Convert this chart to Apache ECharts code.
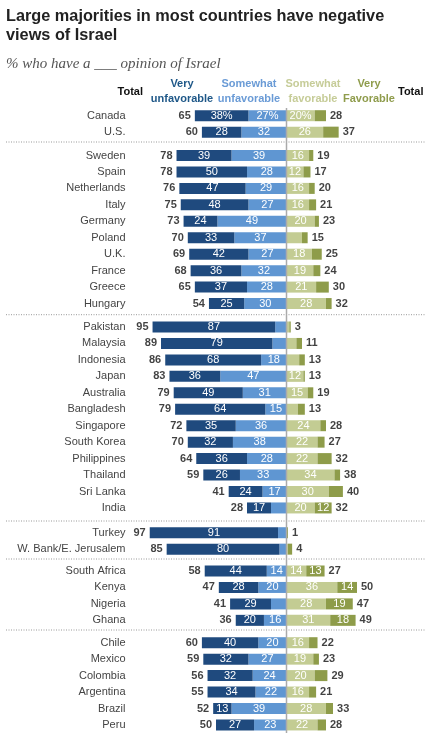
<!DOCTYPE html>
<html>
<head>
<meta charset="utf-8">
<script src="https://cdn.jsdelivr.net/npm/echarts@6/dist/echarts.min.js"></script>
<style>
  html, body { margin: 0; padding: 0; background: #fff; }
  #main { width: 443px; height: 751px; }
</style>
</head>
<body>
<div id="main"></div>
<script>
// chart data
var countries = ['Canada', 'U.S.',
    'Sweden', 'Spain', 'Netherlands', 'Italy', 'Germany', 'Poland', 'U.K.', 'France', 'Greece', 'Hungary',
    'Pakistan', 'Malaysia', 'Indonesia', 'Japan', 'Australia', 'Bangladesh', 'Singapore', 'South Korea',
    'Philippines', 'Thailand', 'Sri Lanka', 'India',
    'Turkey', 'W. Bank/E. Jerusalem',
    'South Africa', 'Kenya', 'Nigeria', 'Ghana',
    'Chile', 'Mexico', 'Colombia', 'Argentina', 'Brazil', 'Peru'];
var groupSizes = [2, 10, 12, 2, 4, 6];
var veryUnfav     = [38, 28, 39, 50, 47, 48, 24, 33, 42, 36, 37, 25, 87, 79, 68, 36, 49, 64, 35, 32, 36, 26, 24, 17, 91, 80, 44, 28, 29, 20, 40, 32, 32, 34, 13, 27];
var somewhatUnfav = [27, 32, 39, 28, 29, 27, 49, 37, 27, 32, 28, 30,  8, 10, 18, 47, 31, 15, 36, 38, 28, 33, 17, 11,  6,  5, 14, 20, 11, 16, 20, 27, 24, 22, 39, 23];
var somewhatFav   = [20, 26, 16, 12, 16, 16, 20, 11, 18, 19, 21, 28,  2,  7,  9, 12, 15,  8, 24, 22, 22, 34, 30, 20,  0,  1, 14, 36, 28, 31, 16, 19, 20, 16, 28, 22];
var veryFav       = [ 8, 11,  3,  5,  4,  5,  3,  4,  7,  5,  9,  4,  1,  4,  4,  1,  4,  5,  4,  5, 10,  4, 10, 12,  1,  3, 13, 14, 19, 18,  6,  4,  9,  5,  5,  6];
var totalUnfav    = [65, 60, 78, 78, 76, 75, 73, 70, 69, 68, 65, 54, 95, 89, 86, 83, 79, 79, 72, 70, 64, 59, 41, 28, 97, 85, 58, 47, 41, 36, 60, 59, 56, 55, 52, 50];
var totalFav      = [28, 37, 19, 17, 20, 21, 23, 15, 25, 24, 30, 32,  3, 11, 13, 13, 19, 13, 28, 27, 32, 38, 40, 32,  1,  4, 27, 50, 47, 49, 22, 23, 29, 21, 33, 28];

// layout
var firstRowY = [115.7, 155.5, 327, 532.7, 571, 642.7];
var pitch = 16.45;
var centerX = 286.5;
var pxPerUnit = 1.41;
var separators = [142, 314.7, 521, 559, 630];

var C_VU = '#1f4a7e', C_SU = '#5f96d2', C_SF = '#c3cc93', C_VF = '#8e9c4a';
var FONT = 'Liberation Sans';

var grids = [], xAxes = [], yAxes = [], series = [];
var start = 0;
groupSizes.forEach(function (n, g) {
    var idx = [];
    for (var i = start; i < start + n; i++) idx.push(i);
    grids.push({
        left: centerX - 100 * pxPerUnit,
        width: 200 * pxPerUnit,
        top: firstRowY[g] - pitch / 2,
        height: n * pitch
    });
    xAxes.push({ gridIndex: g, type: 'value', min: -100, max: 100, show: false });
    yAxes.push({
        gridIndex: g, type: 'category', inverse: true,
        data: idx.map(function (i) { return countries[i]; }),
        axisLine: { show: false }, axisTick: { show: false }, splitLine: { show: false },
        axisLabel: { margin: 20, fontSize: 11, color: '#444', fontFamily: FONT }
    });
    var segLabel = {
        show: true, position: 'inside', color: '#fff', fontSize: 11, fontFamily: FONT,
        formatter: function (p) {
            var v = Math.abs(p.value);
            if (v < 12) return '';
            return v + (g === 0 && p.dataIndex === 0 ? '%' : '');
        }
    };
    var bar = function (arr, sign, color) {
        return {
            type: 'bar', stack: 'grp' + g, xAxisIndex: g, yAxisIndex: g,
            barWidth: 11, silent: true,
            itemStyle: { color: color },
            label: segLabel,
            data: idx.map(function (i) { return sign * arr[i]; })
        };
    };
    series.push(bar(somewhatUnfav, -1, C_SU));
    series.push(bar(veryUnfav, -1, C_VU));
    series.push(bar(somewhatFav, 1, C_SF));
    series.push(bar(veryFav, 1, C_VF));
    // totals
    series.push({
        type: 'scatter', xAxisIndex: g, yAxisIndex: g, symbolSize: 0, silent: true,
        label: {
            show: true, position: 'left', distance: 4, color: '#111', fontWeight: 'bold',
            fontSize: 11, fontFamily: FONT,
            formatter: function (p) { return totalUnfav[p.value[2]]; }
        },
        data: idx.map(function (i, k) { return [-(veryUnfav[i] + somewhatUnfav[i]), k, i]; })
    });
    series.push({
        type: 'scatter', xAxisIndex: g, yAxisIndex: g, symbolSize: 0, silent: true,
        label: {
            show: true, position: 'right', distance: 4, color: '#111', fontWeight: 'bold',
            fontSize: 11, fontFamily: FONT,
            formatter: function (p) { return totalFav[p.value[2]]; }
        },
        data: idx.map(function (i, k) { return [somewhatFav[i] + veryFav[i], k, i]; })
    });
    start += n;
});

var graphics = [
    { type: 'text', left: 6, top: 7, style: { text: 'Large majorities in most countries have negative\nviews of Israel',
        font: 'bold 16.3px "Liberation Sans"', fill: '#222', lineHeight: 19 } },
    { type: 'text', left: 6, top: 57, style: { text: '% who have a ___ opinion of Israel',
        font: 'italic 15px "Liberation Serif"', fill: '#555' } },
    { type: 'text', x: 143, y: 92, style: { text: 'Total', font: 'bold 11px "Liberation Sans"', fill: '#111',
        align: 'right', verticalAlign: 'middle' } },
    { type: 'text', x: 398, y: 92, style: { text: 'Total', font: 'bold 11px "Liberation Sans"', fill: '#111',
        align: 'left', verticalAlign: 'middle' } },
    { type: 'text', x: 182, y: 91.5, style: { text: 'Very\nunfavorable', font: 'bold 11px "Liberation Sans"', fill: '#1f5888',
        align: 'center', verticalAlign: 'middle', lineHeight: 15 } },
    { type: 'text', x: 249, y: 91, style: { text: 'Somewhat\nunfavorable', font: 'bold 11px "Liberation Sans"', fill: '#6a9bd6',
        align: 'center', verticalAlign: 'middle', lineHeight: 15 } },
    { type: 'text', x: 313, y: 91.5, style: { text: 'Somewhat\nfavorable', font: 'bold 11px "Liberation Sans"', fill: '#c6cc98',
        align: 'center', verticalAlign: 'middle', lineHeight: 15 } },
    { type: 'text', x: 369, y: 91.5, style: { text: 'Very\nFavorable', font: 'bold 11px "Liberation Sans"', fill: '#8f9c4c',
        align: 'center', verticalAlign: 'middle', lineHeight: 15 } },
    { type: 'line', z: 100, shape: { x1: centerX, y1: 108, x2: centerX, y2: 733 },
        style: { stroke: '#aaa', lineWidth: 1.5 } }
];
separators.forEach(function (y) {
    graphics.push({ type: 'line', shape: { x1: 6, y1: y, x2: 425, y2: y },
        style: { stroke: '#999', lineWidth: 1, lineDash: [1, 1.5] } });
});

var myChart = echarts.init(document.getElementById('main'), null, { renderer: 'canvas' });
myChart.setOption({
    animation: false,
    grid: grids,
    xAxis: xAxes,
    yAxis: yAxes,
    series: series,
    graphic: graphics
});
</script>
</body>
</html>
